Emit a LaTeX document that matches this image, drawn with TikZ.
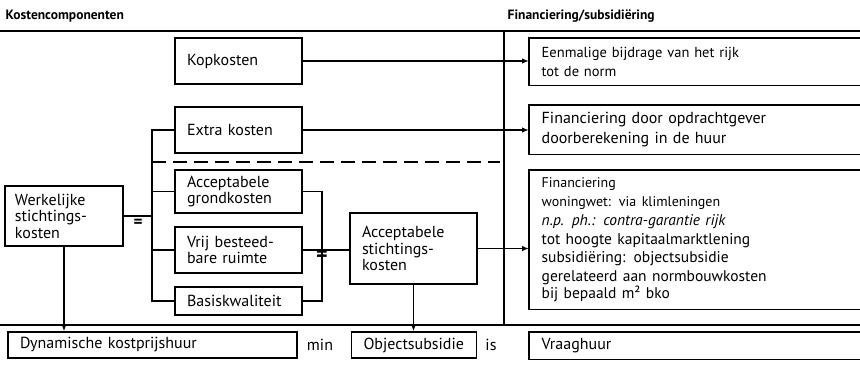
\documentclass[tikz,border=0pt]{standalone}
\usepackage{fontspec}
\setmainfont{PT Sans}
\usetikzlibrary{arrows.meta}
\begin{document}
\begin{tikzpicture}[x=1pt,y=-1pt,
  line width=1.4pt,
  mainfont/.style={font=\fontsize{16}{16.5}\selectfont},
  smallfont/.style={font=\fontsize{14.5}{19}\selectfont},
  headfont/.style={font=\fontsize{13.5}{14}\selectfont\bfseries},
  box/.style={draw, rectangle, inner xsep=12pt, inner ysep=0pt, align=left, mainfont},
  obox/.style={rectangle, inner xsep=12pt, inner ysep=0pt, align=left, mainfont,
    minimum width=331pt, text width=307pt},
  arr/.style={-{Latex[length=7pt,width=5.5pt]}},
  eqsign/.style={inner sep=0pt}
]
\useasboundingbox[fill=white] (0,0) rectangle (860,365);

% headings
\node[headfont, anchor=base west, inner sep=0pt] (h1) at (5,19) {Kostencomponenten};
\node[headfont, anchor=base west, inner sep=0pt] (h2) at (507,19) {Financiering/subsidiëring};

% structural lines
\coordinate (hl) at (0,31);  \coordinate (hr) at (860,31);
\coordinate (vt) at (504,31); \coordinate (vb) at (504,325);
\coordinate (bl) at (0,325); \coordinate (br) at (860,325);
\coordinate (busL) at (152,0);
\coordinate (busR) at (322,0);
\coordinate (d1) at (152,162); \coordinate (d2) at (500,162);
\draw (hl) -- (hr);
\draw (vt) -- (vb);
\draw (bl) -- (br);
\draw[dash pattern=on 14pt off 7pt] (d1) -- (d2);

% left column boxes
\node[box, text width=103pt, minimum height=46pt] (kop) at (238.5,61) {Kopkosten};
\node[box, text width=103pt, minimum height=46pt] (extra) at (238.5,130) {Extra kosten};
\node[box, text width=103pt, minimum height=43pt] (grond) at (238.5,191.5) {Acceptabele\\grondkosten};
\node[box, text width=103pt, minimum height=46pt] (vrij) at (238.5,250) {Vrij besteed-\\bare ruimte};
\node[box, text width=103pt, minimum height=28pt] (basis) at (238.5,301) {Basiskwaliteit};
\node[box, text width=98pt, inner xsep=10pt, minimum height=60pt] (werk) at (64,216) {Werkelijke\\stichtings-\\kosten};
\node[box, text width=103pt, minimum height=71pt] (acc) at (413.5,248.5) {Acceptabele\\stichtings-\\kosten};

% right column boxes (open at the right)
\node[obox, smallfont, minimum height=46pt, anchor=north west] (r1) at (529,38)
  {Eenmalige bijdrage van het rijk\\tot de norm};
\node[obox, font=\fontsize{16}{20}\selectfont, minimum height=48pt, anchor=north west] (r2) at (529,105)
  {Financiering door opdrachtgever\\doorberekening in de huur};
\node[obox, minimum height=138pt, anchor=north west] (r3) at (529,170)
  {\fontsize{14}{18.8}\selectfont Financiering\\
   woningwet: via klimleningen\\
   \fontsize{15.5}{18.8}\selectfont\itshape n.p. ph.: contra-garantie rijk\\
   \upshape tot hoogte kapitaalmarktlening\\
   subsidiëring: objectsubsidie\\
   gerelateerd aan normbouwkosten\\
   bij bepaald m² bko};
\foreach \r in {r1,r2,r3}
  \draw (\r.north east) -- (\r.north west) -- (\r.south west) -- (\r.south east);

% bottom row
\node[box, text width=265pt, minimum height=26pt] (dyn) at (152.5,345) {Dynamische kostprijshuur};
\node[mainfont, inner sep=0pt] (min) at (320,345) {min};
\node[box, text width=101pt, minimum height=26pt] (obj) at (414,345) {Objectsubsidie};
\node[mainfont, inner sep=0pt] (is) at (491,345) {is};
\node[obox, minimum height=26pt, anchor=north west] (vraag) at (529,332) {Vraaghuur};
\draw (vraag.north east) -- (vraag.north west) -- (vraag.south west) -- (vraag.south east);

% left bus
\draw (extra.west) -- (extra.west -| busL) -- (basis.west -| busL) -- (basis.west);
\draw (grond.west) -- (grond.west -| busL);
\draw (vrij.west) -- (vrij.west -| busL);
\draw (werk.east) -- (werk.east -| busL);
\node[eqsign, font=\fontsize{17}{17}\selectfont\bfseries] (eq1) at (138,223) {=};

% right bus
\draw (grond.east) -- (grond.east -| busR) -- (basis.east -| busR) -- (basis.east);
\draw (vrij.east) -- (vrij.east -| acc.west);
\node[eqsign, font=\fontsize{22}{22}\selectfont\bfseries] (eq2) at (322,256) {=};

% arrows to financing
\draw[arr] (kop.east) -- (kop.east -| r1.west);
\draw[arr] (extra.east) -- (extra.east -| r2.west);
\draw[arr] (acc.east) -- (acc.east -| r3.west);

% arrows down to bottom row
\draw[arr] (werk.south) -- (werk.south |- dyn.north);
\draw[arr] (acc.south) -- (acc.south |- obj.north);
\end{tikzpicture}
\end{document}
